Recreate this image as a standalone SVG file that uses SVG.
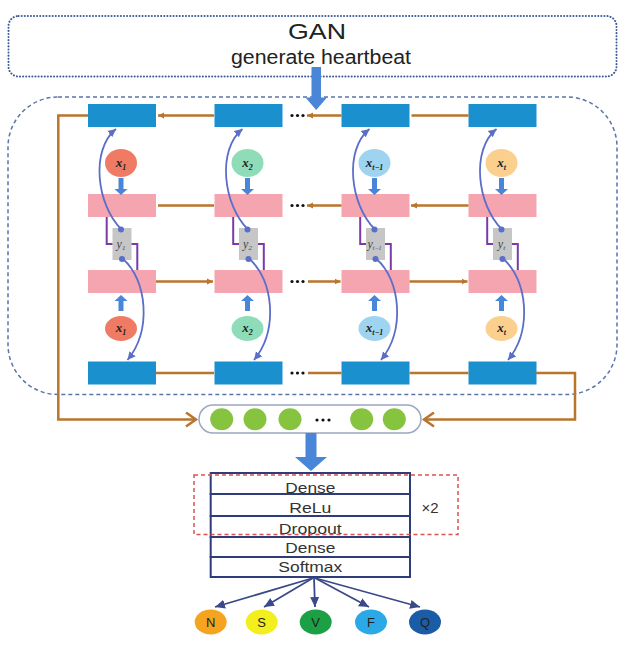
<svg xmlns="http://www.w3.org/2000/svg" width="638" height="646" viewBox="0 0 638 646">
<defs>
<style>
.blue{fill:#1B90CF}
.pink{fill:#F4A5AF}
.gray{fill:#C6C6C6}
.brown{fill:none;stroke:#B9752C;stroke-width:2.5}
.curve{fill:none;stroke:#5B6EC8;stroke-width:1.8}
.purple{fill:none;stroke:#7A3BA8;stroke-width:2}
.barrow{fill:#4A86D8}
.xlab{font-family:"Liberation Serif",serif;font-weight:bold;font-style:italic;font-size:13px;fill:#222;text-anchor:middle}
.ylab{font-family:"Liberation Serif",serif;font-style:italic;font-size:12px;fill:#444;text-anchor:middle}
.dots{fill:#111}
.layer{fill:#fff;stroke:#2E3C7A;stroke-width:2}
.ltxt{font-family:"Liberation Sans",Arial,sans-serif;font-size:14px;fill:#333;text-anchor:middle}
.cls{font-family:"Liberation Sans",Arial,sans-serif;font-size:13px;fill:#222;text-anchor:middle}
.out{fill:none;stroke:#3A4A88;stroke-width:1.8}
.green{fill:#86C440}
</style>
<marker id="mb" markerUnits="userSpaceOnUse" markerWidth="8" markerHeight="8" refX="6" refY="4" orient="auto"><path d="M0,1 L6,4 L0,7 z" fill="#B9752C"/></marker>
<marker id="mch" markerUnits="userSpaceOnUse" markerWidth="14" markerHeight="16" refX="11" refY="8" orient="auto"><path d="M1,1 L11,8 L1,15" fill="none" stroke="#B9752C" stroke-width="2.5"/></marker>
<marker id="mc" markerUnits="userSpaceOnUse" markerWidth="10" markerHeight="10" refX="8" refY="5" orient="auto"><path d="M0,1 L8,5 L0,9 z" fill="#5B6EC8"/></marker>
<marker id="mo" markerUnits="userSpaceOnUse" markerWidth="12" markerHeight="12" refX="10" refY="6" orient="auto"><path d="M0,1.5 L10,6 L0,10.5 z" fill="#3A4A88"/></marker>
<g id="dot3"><circle cx="292" cy="0" r="1.6"/><circle cx="297.5" cy="0" r="1.6"/><circle cx="303" cy="0" r="1.6"/></g>
</defs>
<rect width="638" height="646" fill="#fff"/>

<g id="gan">
<rect x="8.5" y="16" width="608" height="60.5" rx="10" fill="none" stroke="#3D5A99" stroke-width="2" stroke-dasharray="0.1,3" stroke-linecap="round"/>
<text x="317" y="39" font-family="Liberation Sans,Arial,sans-serif" font-size="22" fill="#222" text-anchor="middle" textLength="58" lengthAdjust="spacingAndGlyphs">GAN</text>
<text x="231" y="64" font-family="Liberation Sans,Arial,sans-serif" font-size="20" fill="#222" textLength="180" lengthAdjust="spacingAndGlyphs">generate heartbeat</text>
</g>

<g id="bilstm-frame">
<rect x="8" y="97" width="609" height="297.5" rx="50" fill="none" stroke="#5A74A8" stroke-width="1.5" stroke-dasharray="4,3"/>
</g>

<g id="col1">
<rect class="blue" x="88" y="104" width="68" height="23"/>
<ellipse cx="121" cy="163" rx="16" ry="14" fill="#EF7B64"/>
<text class="xlab" x="121" y="167">x<tspan font-size="8" dy="3">1</tspan></text>
<rect class="pink" x="88" y="194" width="68" height="23"/>
<rect class="gray" x="112.5" y="228" width="19" height="32"/>
<text class="ylab" x="121" y="248">y<tspan font-size="7" dy="2">1</tspan></text>
<rect class="pink" x="88" y="270" width="68" height="23"/>
<ellipse cx="121" cy="328.5" rx="16" ry="12.5" fill="#EF7B64"/>
<text class="xlab" x="121" y="332">x<tspan font-size="8" dy="3">1</tspan></text>
<rect class="blue" x="88" y="361.5" width="68" height="23"/>
</g>
<g id="col2" transform="translate(126.5,0)">
<rect class="blue" x="88" y="104" width="68" height="23"/>
<ellipse cx="121" cy="163" rx="16" ry="14" fill="#8FDDB8"/>
<text class="xlab" x="121" y="167">x<tspan font-size="8" dy="3">2</tspan></text>
<rect class="pink" x="88" y="194" width="68" height="23"/>
<rect class="gray" x="112.5" y="228" width="19" height="32"/>
<text class="ylab" x="121" y="248">y<tspan font-size="7" dy="2">2</tspan></text>
<rect class="pink" x="88" y="270" width="68" height="23"/>
<ellipse cx="121" cy="328.5" rx="16" ry="12.5" fill="#8FDDB8"/>
<text class="xlab" x="121" y="332">x<tspan font-size="8" dy="3">2</tspan></text>
<rect class="blue" x="88" y="361.5" width="68" height="23"/>
</g>
<g id="col3" transform="translate(253.5,0)">
<rect class="blue" x="88" y="104" width="68" height="23"/>
<ellipse cx="121" cy="163" rx="16" ry="14" fill="#9FD4F1"/>
<text class="xlab" x="121" y="167">x<tspan font-size="8" dy="3">t−1</tspan></text>
<rect class="pink" x="88" y="194" width="68" height="23"/>
<rect class="gray" x="112.5" y="228" width="19" height="32"/>
<text class="ylab" x="121" y="248">y<tspan font-size="6" dy="2">t−1</tspan></text>
<rect class="pink" x="88" y="270" width="68" height="23"/>
<ellipse cx="121" cy="328.5" rx="16" ry="12.5" fill="#9FD4F1"/>
<text class="xlab" x="121" y="332">x<tspan font-size="8" dy="3">t−1</tspan></text>
<rect class="blue" x="88" y="361.5" width="68" height="23"/>
</g>
<g id="col4" transform="translate(380.5,0)">
<rect class="blue" x="88" y="104" width="68" height="23"/>
<ellipse cx="121" cy="163" rx="16" ry="14" fill="#FBD08F"/>
<text class="xlab" x="121" y="167">x<tspan font-size="8" dy="3">t</tspan></text>
<rect class="pink" x="88" y="194" width="68" height="23"/>
<rect class="gray" x="112.5" y="228" width="19" height="32"/>
<text class="ylab" x="121" y="248">y<tspan font-size="7" dy="2">t</tspan></text>
<rect class="pink" x="88" y="270" width="68" height="23"/>
<ellipse cx="121" cy="328.5" rx="16" ry="12.5" fill="#FBD08F"/>
<text class="xlab" x="121" y="332">x<tspan font-size="8" dy="3">t</tspan></text>
<rect class="blue" x="88" y="361.5" width="68" height="23"/>
</g>

<g id="ellipsis" class="dots">
<use href="#dot3" y="115.5"/>
<use href="#dot3" y="205.5"/>
<use href="#dot3" y="281.5"/>
<use href="#dot3" y="373"/>
</g>

<g id="pool">
<rect x="199" y="405" width="222" height="28" rx="14" fill="#fff" stroke="#9AA8C0" stroke-width="1.5"/>
<ellipse class="green" cx="221.7" cy="419.3" rx="11.5" ry="11"/>
<ellipse class="green" cx="255" cy="419.3" rx="11.5" ry="11"/>
<ellipse class="green" cx="290" cy="419.3" rx="11.5" ry="11"/>
<ellipse class="green" cx="361.7" cy="419.3" rx="11.5" ry="11"/>
<ellipse class="green" cx="394.3" cy="419.3" rx="11.5" ry="11"/>
<g class="dots"><circle cx="317" cy="420" r="1.6"/><circle cx="323" cy="420" r="1.6"/><circle cx="329" cy="420" r="1.6"/></g>
</g>

<g id="stack">
<rect class="layer" x="210.7" y="473" width="199.3" height="21"/>
<rect class="layer" x="210.7" y="494" width="199.3" height="22"/>
<rect class="layer" x="210.7" y="516" width="199.3" height="21"/>
<rect class="layer" x="210.7" y="537" width="199.3" height="20"/>
<rect class="layer" x="210.7" y="557" width="199.3" height="20"/>
<text class="ltxt" x="310.3" y="492.5" textLength="50" lengthAdjust="spacingAndGlyphs">Dense</text>
<text class="ltxt" x="310.3" y="513" textLength="42" lengthAdjust="spacingAndGlyphs">ReLu</text>
<text class="ltxt" x="310.3" y="534" textLength="63" lengthAdjust="spacingAndGlyphs">Dropout</text>
<text class="ltxt" x="310.3" y="553" textLength="50" lengthAdjust="spacingAndGlyphs">Dense</text>
<text class="ltxt" x="310.3" y="571.5" textLength="64" lengthAdjust="spacingAndGlyphs">Softmax</text>
</g>
<g id="repeat">
<rect x="194" y="475" width="264" height="59.5" fill="none" stroke="#D9534F" stroke-width="1.5" stroke-dasharray="4,3"/>
<text x="430" y="513" font-family="Liberation Sans,Arial,sans-serif" font-size="15" fill="#333" text-anchor="middle">×2</text>
</g>

<g id="classes">
<ellipse cx="210.7" cy="622" rx="16" ry="12.5" fill="#F4A41E"/>
<text class="cls" x="210.7" y="626.5">N</text>
<ellipse cx="261.7" cy="622" rx="16" ry="12.5" fill="#F3EF1E"/>
<text class="cls" x="261.7" y="626.5">S</text>
<ellipse cx="315.7" cy="622" rx="16" ry="12.5" fill="#1CA046"/>
<text class="cls" x="315.7" y="626.5">V</text>
<ellipse cx="371" cy="622" rx="16" ry="12.5" fill="#2BA9E6"/>
<text class="cls" x="371" y="626.5">F</text>
<ellipse cx="425" cy="622" rx="16" ry="12.5" fill="#1B5CA6"/>
<text class="cls" x="425" y="626.5">Q</text>
</g>

<g id="connectors">
<path class="barrow" d="M311.5,67 H321 V97.5 H327 L316.2,110 L305.5,97.5 H311.5 Z"/>
<g class="brown">
<line x1="214" y1="115.5" x2="158" y2="115.5" marker-end="url(#mb)"/>
<line x1="341.5" y1="115.5" x2="307" y2="115.5" marker-end="url(#mb)"/>
<line x1="468.5" y1="115.5" x2="411.5" y2="115.5"/>
<line x1="214" y1="205.5" x2="158" y2="205.5"/>
<line x1="341.5" y1="205.5" x2="307" y2="205.5" marker-end="url(#mb)"/>
<line x1="468.5" y1="205.5" x2="411" y2="205.5" marker-end="url(#mb)"/>
<line x1="156" y1="281.5" x2="213" y2="281.5" marker-end="url(#mb)"/>
<line x1="308" y1="281.5" x2="340.5" y2="281.5" marker-end="url(#mb)"/>
<line x1="409.5" y1="281.5" x2="467.5" y2="281.5" marker-end="url(#mb)"/>
<line x1="156" y1="373" x2="214" y2="373"/>
<line x1="308" y1="373" x2="341.5" y2="373"/>
<line x1="409.5" y1="373" x2="468.5" y2="373"/>
<path d="M88,115.5 H58.3 V419.5 H196" marker-end="url(#mch)"/>
<path d="M536,373 H575 V419.5 H424" marker-end="url(#mch)"/>
</g>
<g id="links1">
<path class="barrow" d="M118.5,178 H123.5 V189 H127.5 L121,195 L114.5,189 H118.5 Z"/>
<path class="barrow" d="M118.5,311 H123.5 V301 H127.5 L121,295 L114.5,301 H118.5 Z"/>
<path class="curve" d="M121,229 C97,205 90,150 116,129" marker-end="url(#mc)"/>
<path class="curve" d="M123,259 C147,280 152,330 127.5,360" marker-end="url(#mc)"/>
<circle cx="121" cy="229.5" r="3" fill="#5B6EC8"/>
<circle cx="122" cy="259" r="3" fill="#5B6EC8"/>
<path class="purple" d="M106.7,217 V244 H112.5"/>
<path class="purple" d="M131.5,244 H137.3 V270"/>
</g>
<use href="#links1" transform="translate(126.5,0)"/>
<use href="#links1" transform="translate(253.5,0)"/>
<use href="#links1" transform="translate(380.5,0)"/>
<path class="barrow" d="M305.5,433 H316.5 V457 H327 L311,471 L295,457 H305.5 Z"/>
<line class="out" x1="313" y1="578" x2="215" y2="607" marker-end="url(#mo)"/>
<line class="out" x1="313" y1="578" x2="264" y2="607" marker-end="url(#mo)"/>
<line class="out" x1="314" y1="578" x2="315" y2="607" marker-end="url(#mo)"/>
<line class="out" x1="315" y1="578" x2="369" y2="607" marker-end="url(#mo)"/>
<line class="out" x1="315" y1="578" x2="420" y2="607" marker-end="url(#mo)"/>
</g>
</svg>
